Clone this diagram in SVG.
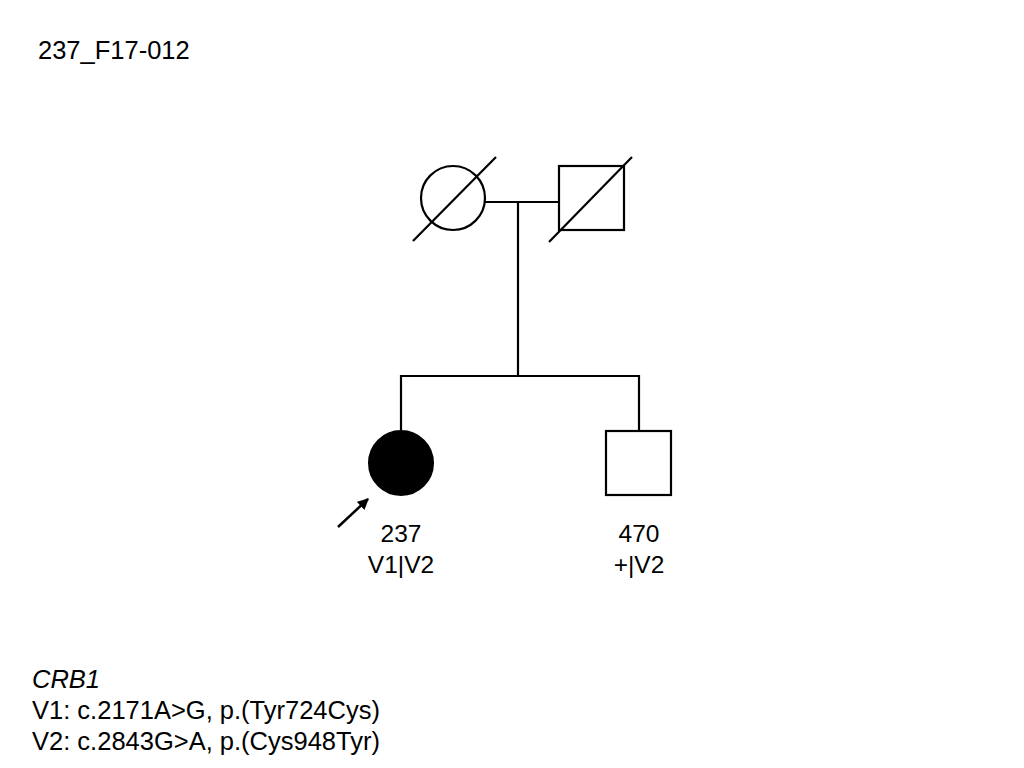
<svg xmlns="http://www.w3.org/2000/svg" width="1024" height="768" viewBox="0 0 1024 768">
<style>
.ln{stroke:#000;stroke-width:2.2;fill:none}
.sym{stroke:#000;stroke-width:2.2;fill:#fff}
.t{font-family:"Liberation Sans",Arial,sans-serif;font-size:25.5px;fill:#000}
.lbl{font-family:"Liberation Sans",Arial,sans-serif;font-size:24.5px;fill:#000;text-anchor:middle}
</style>
<defs>
<marker id="ah" viewBox="0 0 10 10" refX="9" refY="5" markerWidth="4.5" markerHeight="4.5" orient="auto" markerUnits="strokeWidth">
<path d="M0,0 L10,5 L0,10 z" fill="#000"/>
</marker>
</defs>
<rect width="1024" height="768" fill="#fff"/>
<text class="t" x="38" y="59">237_F17-012</text>
<g id="connectors">
<line class="ln" x1="485" y1="202" x2="559" y2="202"/>
<line class="ln" x1="518" y1="202" x2="518" y2="377"/>
<line class="ln" x1="401" y1="376" x2="640" y2="376"/>
<line class="ln" x1="401" y1="375" x2="401" y2="430"/>
<line class="ln" x1="639" y1="375" x2="639" y2="431"/>
</g>
<g id="mother">
<circle class="sym" cx="453" cy="198" r="32"/>
<line class="ln" x1="413" y1="241" x2="496" y2="157"/>
</g>
<g id="father">
<rect class="sym" x="559" y="166" width="65" height="64"/>
<line class="ln" x1="549" y1="242" x2="632" y2="157"/>
</g>
<g id="n237">
<circle cx="401" cy="463" r="32" fill="#000" stroke="#000" stroke-width="2"/>
<line x1="338" y1="527" x2="368" y2="499" stroke="#000" stroke-width="2.5" marker-end="url(#ah)"/>
<text class="lbl" x="401" y="542">237</text>
<text class="lbl" x="401" y="573">V1|V2</text>
</g>
<g id="n470">
<rect class="sym" x="606" y="431" width="65" height="64"/>
<text class="lbl" x="639" y="542">470</text>
<text class="lbl" x="639" y="573">+|V2</text>
</g>
<g id="legend">
<text class="t" x="32" y="688" font-style="italic">CRB1</text>
<text class="t" x="32" y="719">V1: c.2171A&gt;G, p.(Tyr724Cys)</text>
<text class="t" x="32" y="750">V2: c.2843G&gt;A, p.(Cys948Tyr)</text>
</g>
</svg>
